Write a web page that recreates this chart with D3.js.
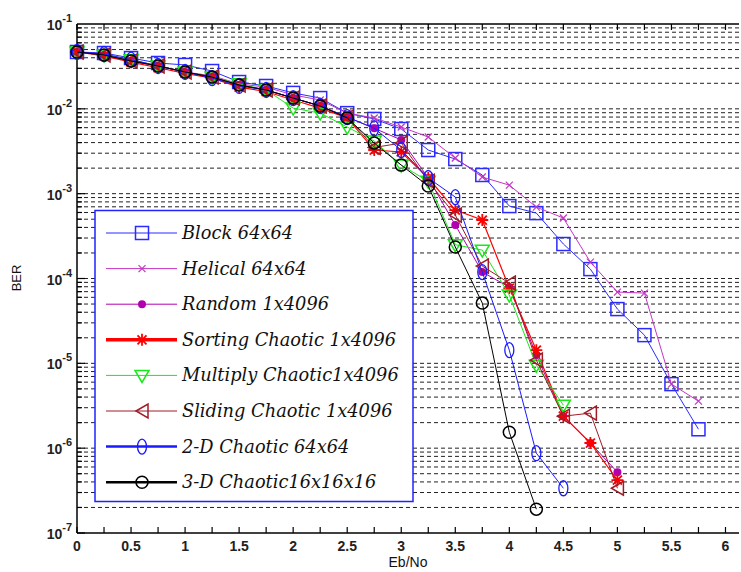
<!DOCTYPE html>
<html><head><meta charset="utf-8">
<script src="https://cdn.jsdelivr.net/npm/d3@7"></script>
<style>body{margin:0;background:#fff}svg{display:block}</style>
</head><body>
<script>
// ---- data ----
const ebno = [0,0.25,0.5,0.75,1,1.25,1.5,1.75,2,2.25,2.5,2.75,3,3.25,3.5,3.75,4,4.25,4.5,4.75,5,5.25,5.5,5.75];
const blockBER   = [0.0468,0.0455,0.0397,0.0347,0.0329,0.0279,0.0207,0.0186,0.0154,0.0134,0.0089,0.0076,0.00578,0.00327,0.00256,0.00166,0.000714,0.00059,0.000255,0.000129,4.36e-5,2.15e-5,5.69e-6,1.67e-6];
const helicalBER = [0.0468,0.0431,0.0380,0.0320,0.0272,0.0245,0.0197,0.0180,0.0146,0.0127,0.0089,0.0078,0.0061,0.00465,0.00263,0.00157,0.00126,0.000695,0.000516,0.000156,6.92e-5,6.73e-5,5.69e-6,3.58e-6];
const randomBER  = [0.0468,0.0431,0.0366,0.0320,0.0272,0.0237,0.0191,0.0167,0.0134,0.0108,0.0080,0.0059,0.0043,0.00153,0.000427,0.000119,7.92e-5,1.25e-5,2.38e-6,1.15e-6,5.21e-7];
const sortingBER = [0.0468,0.0420,0.0355,0.0305,0.0262,0.0230,0.0180,0.0160,0.0127,0.0102,0.0078,0.00327,0.0031,0.00153,0.000641,0.000489,7.71e-5,1.43e-5,2.38e-6,1.15e-6,4.19e-7];
const multiplyBER= [0.0468,0.0431,0.0380,0.0320,0.0272,0.0237,0.0197,0.0167,0.0102,0.0089,0.0061,0.00417,0.00217,0.00140,0.00025,0.000216,6.37e-5,9.5e-6,3.21e-6];
const slidingBER = [0.0468,0.0431,0.0366,0.0320,0.0272,0.0237,0.0191,0.0167,0.0134,0.0108,0.0080,0.0035,0.00395,0.00140,0.000559,0.000140,8.83e-5,1.09e-5,2.38e-6,2.59e-6,3.37e-7];
const twoDBER    = [0.0468,0.0443,0.0380,0.0320,0.0272,0.0230,0.0186,0.0167,0.0134,0.0108,0.0080,0.0059,0.00327,0.00153,0.000912,0.000119,1.43e-5,8.73e-7,3.37e-7];
const threeDBER  = [0.0468,0.0431,0.0366,0.0320,0.0272,0.0237,0.0191,0.0167,0.0134,0.0108,0.0078,0.00395,0.00217,0.00123,0.000235,5.13e-5,1.54e-6,1.91e-7];
const seriesNames = ["Block 64x64","Helical 64x64","Random 1x4096","Sorting Chaotic 1x4096","Multiply Chaotic1x4096","Sliding Chaotic 1x4096","2-D Chaotic 64x64","3-D Chaotic16x16x16"];
const xTickLabels = ["0","0.5","1","1.5","2","2.5","3","3.5","4","4.5","5","5.5","6"];
const yDecadeExps = [-7,-6,-5,-4,-3,-2,-1];

const series = [
  {name:seriesNames[0], v:blockBER,    color:"#2b2bff", w:1,   lw:1,   marker:"square"},
  {name:seriesNames[1], v:helicalBER,  color:"#c436c4", w:1,   lw:1,   marker:"xmark"},
  {name:seriesNames[2], v:randomBER,   color:"#b000b0", w:1,   lw:1,   marker:"dot"},
  {name:seriesNames[3], v:sortingBER,  color:"#ff0000", w:1.2, lw:3.5, marker:"star"},
  {name:seriesNames[4], v:multiplyBER, color:"#18e818", w:1,   lw:1,   marker:"tridown"},
  {name:seriesNames[5], v:slidingBER,  color:"#a01c28", w:1,   lw:1,   marker:"trileft"},
  {name:seriesNames[6], v:twoDBER,     color:"#1a1aff", w:1,   lw:2.5, marker:"diamond"},
  {name:seriesNames[7], v:threeDBER,   color:"#000000", w:1,   lw:2.5, marker:"circle"}
];

const W = 741, H = 572;
const L = 77, R = 739, T = 24, B = 533;
const svg = d3.select("body").append("svg").attr("width", W).attr("height", H);
const x = d3.scaleLinear().domain([0, 6.125]).range([L, R]);
const y = d3.scaleLog().domain([1e-7, 1e-1]).range([B, T]);

// grid lines (dashed) at every major/minor log position
const gridVals = [];
yDecadeExps.forEach(e => { for (let m = 1; m <= 9; m++) { const v = m * Math.pow(10, e); if (v < 0.1 && v >= 1e-7) gridVals.push(v); } });
svg.append("g").selectAll("line").data(gridVals.filter(v => v > 1e-7)).join("line")
  .attr("x1", L).attr("x2", R).attr("y1", d => y(d)).attr("y2", d => y(d))
  .attr("stroke", "#222").attr("stroke-width", 1).attr("stroke-dasharray", "4,3");

// axes frame
svg.append("line").attr("x1", L).attr("x2", R).attr("y1", B).attr("y2", B).attr("stroke", "#000").attr("stroke-width", 1.5);
svg.append("line").attr("x1", L).attr("x2", R).attr("y1", T).attr("y2", T).attr("stroke", "#000").attr("stroke-width", 1.5);
svg.append("line").attr("x1", L).attr("x2", L).attr("y1", T).attr("y2", B).attr("stroke", "#000").attr("stroke-width", 1.5);

// x ticks every 0.25, inward on bottom and top
const xt = d3.range(0, 6.01, 0.25);
svg.append("g").selectAll("line").data(xt).join("line")
  .attr("x1", d => x(d)).attr("x2", d => x(d)).attr("y1", B).attr("y2", B - 6).attr("stroke", "#000").attr("stroke-width", 1.2);
svg.append("g").selectAll("line").data(xt).join("line")
  .attr("x1", d => x(d)).attr("x2", d => x(d)).attr("y1", T).attr("y2", T + 6).attr("stroke", "#000").attr("stroke-width", 1.2);
svg.append("g").selectAll("text").data(xTickLabels).join("text")
  .attr("x", (d) => x(+d)).attr("y", 551).attr("text-anchor", "middle")
  .attr("font-family", "Liberation Sans, Arial, sans-serif").attr("font-size", 14).attr("font-weight", "bold").attr("fill", "#222")
  .text(d => d);

// y ticks
svg.append("g").selectAll("line").data(gridVals).join("line")
  .attr("x1", L).attr("x2", d => L + (Math.abs(Math.log10(d) - Math.round(Math.log10(d))) < 1e-9 ? 8 : 5))
  .attr("y1", d => y(d)).attr("y2", d => y(d)).attr("stroke", "#000").attr("stroke-width", 1.2);
const yl = svg.append("g").selectAll("text").data(yDecadeExps).join("text")
  .attr("x", 72).attr("y", d => y(Math.pow(10, d)) + 6).attr("text-anchor", "end")
  .attr("font-family", "Liberation Sans, Arial, sans-serif").attr("font-size", 14).attr("font-weight", "bold").attr("fill", "#222");
yl.append("tspan").text("10");
yl.append("tspan").attr("dy", -8).attr("font-size", 11).text(d => String(d));

// axis titles
svg.append("text").attr("x", 408).attr("y", 567).attr("text-anchor", "middle")
  .attr("font-family", "Liberation Sans, Arial, sans-serif").attr("font-size", 14).attr("fill", "#111").text("Eb/No");
svg.append("text").attr("transform", "translate(21,278) rotate(-90)").attr("text-anchor", "middle")
  .attr("font-family", "Liberation Sans, Arial, sans-serif").attr("font-size", 13).attr("fill", "#111").text("BER");

// marker drawing
function drawMarker(g, type, color, cx, cy) {
  switch (type) {
    case "square":
      g.append("rect").attr("x", cx - 6.5).attr("y", cy - 6.5).attr("width", 13).attr("height", 13)
        .attr("fill", "none").attr("stroke", color).attr("stroke-width", 1.5); break;
    case "xmark":
      g.append("path").attr("d", `M${cx-3.5},${cy-3.5}L${cx+3.5},${cy+3.5}M${cx-3.5},${cy+3.5}L${cx+3.5},${cy-3.5}`)
        .attr("stroke", color).attr("stroke-width", 1.2); break;
    case "dot":
      g.append("circle").attr("cx", cx).attr("cy", cy).attr("r", 4).attr("fill", color); break;
    case "star":
      g.append("path").attr("d", `M${cx-6},${cy}L${cx+6},${cy}M${cx},${cy-6}L${cx},${cy+6}M${cx-4.5},${cy-4.5}L${cx+4.5},${cy+4.5}M${cx-4.5},${cy+4.5}L${cx+4.5},${cy-4.5}`)
        .attr("stroke", color).attr("stroke-width", 1.8); break;
    case "tridown":
      g.append("path").attr("d", `M${cx-7},${cy-5}L${cx+7},${cy-5}L${cx},${cy+7}Z`)
        .attr("fill", "none").attr("stroke", color).attr("stroke-width", 1.5); break;
    case "trileft":
      g.append("path").attr("d", `M${cx-6},${cy}L${cx+6},${cy-7}L${cx+6},${cy+7}Z`)
        .attr("fill", "none").attr("stroke", color).attr("stroke-width", 1.5); break;
    case "diamond":
      g.append("ellipse").attr("cx", cx).attr("cy", cy).attr("rx", 4.5).attr("ry", 7.5)
        .attr("fill", "none").attr("stroke", color).attr("stroke-width", 1.3); break;
    case "circle":
      g.append("circle").attr("cx", cx).attr("cy", cy).attr("r", 6)
        .attr("fill", "none").attr("stroke", color).attr("stroke-width", 1.5); break;
  }
}

// series
const line = d3.line().x((d, i) => x(ebno[i])).y(d => y(d));
series.forEach(s => {
  const g = svg.append("g");
  g.append("path").datum(s.v).attr("d", line).attr("fill", "none").attr("stroke", s.color).attr("stroke-width", s.w);
  s.v.forEach((v, i) => drawMarker(g, s.marker, s.color, x(ebno[i]), y(v)));
});

// legend
const lg = svg.append("g");
lg.append("rect").attr("x", 95).attr("y", 210.5).attr("width", 318).attr("height", 291)
  .attr("fill", "#fff").attr("stroke", "#2222ff").attr("stroke-width", 1.5);
series.forEach((s, i) => {
  const yy = 233 + i * 35.6;
  lg.append("line").attr("x1", 106).attr("x2", 177).attr("y1", yy).attr("y2", yy).attr("stroke", s.color).attr("stroke-width", s.lw);
  drawMarker(lg, s.marker, s.color, 142, yy);
  lg.append("text").attr("x", 182).attr("y", yy + 6)
    .attr("font-family", "DejaVu Serif, serif").attr("font-style", "italic").attr("font-size", 17.8).attr("fill", "#111")
    .text(s.name);
});
</script>
</body></html>
